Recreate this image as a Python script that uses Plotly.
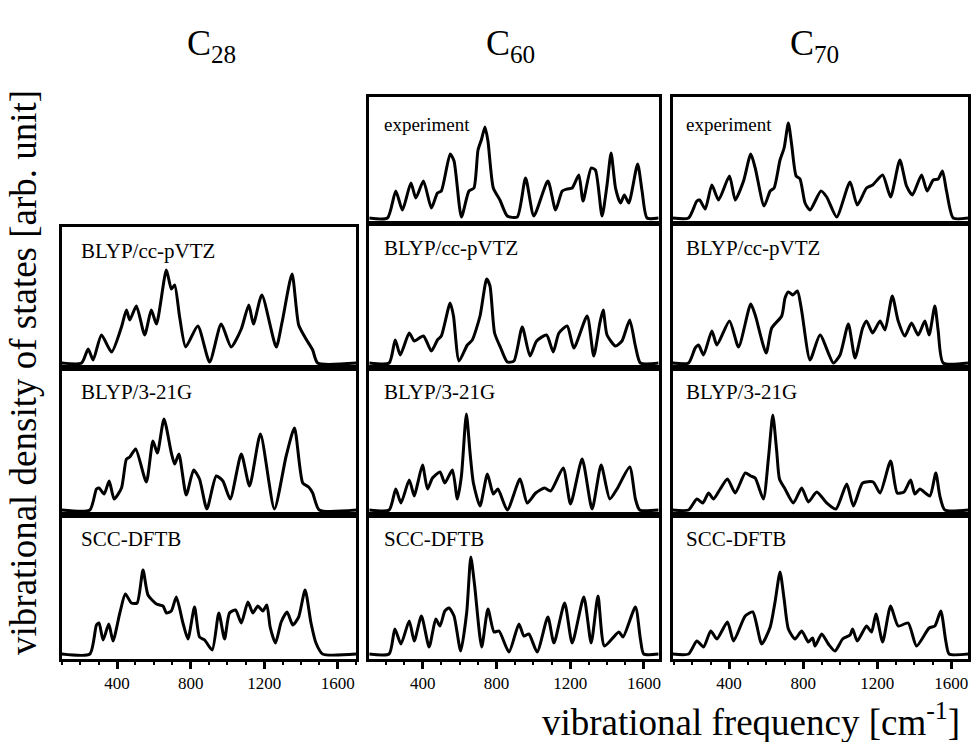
import plotly.graph_objects as go

# ---------------- data (frequency in cm^-1, intensity in arb. units) ----------------
molecules = ["C<sub>28</sub>", "C<sub>60</sub>", "C<sub>70</sub>"]
methods = ["experiment", "BLYP/cc-pVTZ", "BLYP/3-21G", "SCC-DFTB"]
tick_vals = [400, 800, 1200, 1600]

c28_cc_x = [207,243,270,315,370,424,451,469,505,550,586,614,668,695,713,740,773,839,903,966,1020,1075,1116,1141,1187,1265,1297,1351,1387,1427,1463,1490]
c28_cc_y = [0,14,3,28,11,36,53,43,57,28,53,39,93,74,78,46,16,37,1,39,16,34,58,39,68,16,41,89,38,24,13,0]

c28_321_x = [252,288,302,330,357,384,424,451,469,501,559,595,619,655,695,713,736,776,816,848,888,939,975,1015,1075,1120,1179,1255,1319,1364,1409,1441,1463,1499]
c28_321_y = [0,21,22,16,29,11,22,51,53,61,28,69,57,91,57,46,56,15,40,31,1,34,29,11,56,24,76,1,54,82,27,23,17,0]

c28_scc_x = [252,288,302,324,355,378,415,445,478,509,541,568,614,650,668,695,722,758,785,821,848,876,917,953,984,1011,1044,1075,1111,1138,1165,1192,1214,1232,1261,1292,1324,1355,1387,1422,1454,1481,1517]
c28_scc_y = [0,29,31,14,30,13,41,60,51,51,84,59,50,48,41,43,57,31,15,47,17,14,4,41,15,41,44,31,52,41,48,43,49,27,11,32,42,29,37,64,31,11,0]

c60_exp_x = [209,254,290,336,363,404,447,480,501,549,570,610,651,678,700,718,738,754,783,819,859,913,958,1003,1079,1121,1157,1184,1211,1247,1270,1314,1337,1373,1400,1422,1446,1473,1494,1518,1566,1590,1617]
c60_exp_y = [0,27,8,35,20,37,10,25,27,64,57,1,27,30,68,78,91,77,30,18,2,1,40,2,37,8,27,29,30,43,17,50,48,2,33,65,30,15,23,15,54,27,0]

c60_cc_x = [218,251,278,327,354,404,447,480,501,549,567,597,642,669,711,747,765,790,823,859,895,940,982,1018,1072,1108,1139,1184,1220,1292,1328,1361,1379,1400,1446,1481,1523,1554,1581]
c60_cc_y = [0,23,8,30,22,27,12,23,27,60,47,2,18,23,47,84,77,30,15,1,2,36,7,22,28,11,30,37,15,47,7,40,53,28,17,22,43,17,0]

c60_321_x = [218,254,282,327,354,372,399,426,453,494,520,561,588,610,637,657,675,711,751,783,808,859,928,967,1013,1061,1094,1162,1202,1265,1319,1368,1415,1454,1523,1554,1577]
c60_321_y = [0,21,7,30,14,26,45,21,32,38,27,40,11,34,96,57,27,4,36,16,21,0,31,7,17,22,19,42,6,51,1,45,11,21,43,11,0]

c60_scc_x = [218,249,282,327,354,393,435,471,494,520,543,570,606,639,661,682,720,754,787,814,868,922,949,976,1021,1079,1112,1170,1211,1274,1314,1351,1386,1464,1487,1554,1581,1599]
c60_scc_y = [0,25,10,33,13,38,7,35,28,43,46,38,3,42,97,68,7,45,22,23,2,30,18,20,2,37,11,51,11,57,11,58,8,22,17,47,15,0]

c70_exp_x = [181,226,241,271,307,343,402,433,478,517,541,589,622,643,675,697,720,738,762,783,810,837,896,927,981,1053,1092,1142,1175,1229,1272,1322,1358,1390,1439,1469,1502,1529,1552,1574,1610]
c70_exp_y = [0,17,18,9,33,18,42,18,37,64,50,12,27,30,58,70,95,73,42,39,15,8,27,21,1,36,13,30,33,43,21,58,32,23,43,27,38,39,47,27,0]

c70_cc_x = [181,217,235,262,307,334,402,451,517,541,600,630,684,702,720,744,769,792,837,891,963,999,1044,1080,1121,1142,1175,1215,1242,1281,1313,1349,1385,1421,1457,1480,1511,1529,1556]
c70_cc_y = [0,15,18,8,32,18,42,16,59,48,10,35,47,65,71,68,72,52,3,28,0,8,39,5,35,42,30,42,33,67,42,27,40,28,42,28,57,32,0]

c70_321_x = [181,226,258,289,316,352,391,433,487,517,541,585,612,636,657,672,702,747,792,828,873,927,977,1035,1071,1121,1178,1215,1272,1308,1344,1380,1403,1430,1484,1516,1538,1565]
c70_321_y = [0,11,7,17,11,21,31,17,37,34,32,11,51,95,59,31,21,7,22,8,18,7,1,26,4,27,28,17,49,17,18,30,16,21,14,37,14,0]

c70_scc_x = [181,226,262,301,334,391,424,487,528,576,622,648,675,697,720,756,792,828,851,864,900,936,972,1013,1053,1067,1092,1142,1169,1193,1229,1272,1313,1367,1412,1480,1511,1543,1570,1588]
c70_scc_y = [0,13,7,23,15,32,13,38,42,10,27,52,82,55,25,15,23,12,16,8,20,10,3,15,19,25,13,28,22,40,12,48,28,31,8,26,28,43,13,0]

spectra = {
    (0, 1): (c28_cc_x, c28_cc_y),
    (0, 2): (c28_321_x, c28_321_y),
    (0, 3): (c28_scc_x, c28_scc_y),
    (1, 0): (c60_exp_x, c60_exp_y),
    (1, 1): (c60_cc_x, c60_cc_y),
    (1, 2): (c60_321_x, c60_321_y),
    (1, 3): (c60_scc_x, c60_scc_y),
    (2, 0): (c70_exp_x, c70_exp_y),
    (2, 1): (c70_cc_x, c70_cc_y),
    (2, 2): (c70_321_x, c70_321_y),
    (2, 3): (c70_scc_x, c70_scc_y),
}

# ---------------- layout (pixel geometry) ----------------
W, H = 975, 742
col_px = [(62, 357), (370, 660), (674, 970)]
col_range = [(100, 1700), (110, 1680), (95, 1690)]
label_off = [17, 13, 11]
row_px = [(97, 223), (224, 368), (368, 515), (515, 659)]
col1_top = 227
BASE_OFF = 5  # baseline offset above panel bottom (px)

FONT = "Liberation Serif"

def fx(px):
    return px / W

def fy(py):
    return 1 - py / H

fig = go.Figure()
layout = {}
annotations = []

idx = 0
for (c, r), (xs, ys) in spectra.items():
    idx += 1
    x0, x1 = col_px[c]
    top, bot = row_px[r]
    if c == 0 and r == 1:
        top = col1_top
    lo, hi = col_range[c]
    xa = "xaxis" if idx == 1 else f"xaxis{idx}"
    ya = "yaxis" if idx == 1 else f"yaxis{idx}"
    xref = "x" if idx == 1 else f"x{idx}"
    yref = "y" if idx == 1 else f"y{idx}"
    bottom_row = (r == 3)
    xaxis = dict(
        domain=[fx(x0), fx(x1)], range=[lo, hi], anchor=yref,
        showline=True, mirror=True, linecolor="black", linewidth=3,
        showgrid=False, zeroline=False, fixedrange=True,
    )
    if bottom_row:
        xaxis.update(
            tickvals=tick_vals, ticks="outside", ticklen=7, tickwidth=2.5,
            tickcolor="black", showticklabels=True,
            tickfont=dict(family=FONT, size=17, color="black"),
            minor=dict(ticks="outside", dtick=100, tick0=0, ticklen=3,
                       tickwidth=1.5, tickcolor="black"),
        )
    else:
        xaxis.update(ticks="", showticklabels=False)
    layout[xa] = xaxis
    hpx = bot - top
    layout[ya] = dict(
        domain=[fy(bot), fy(top)], range=[-BASE_OFF, hpx - BASE_OFF], anchor=xref,
        showline=True, mirror=True, linecolor="black", linewidth=3,
        showgrid=False, zeroline=False, ticks="", showticklabels=False,
        fixedrange=True,
    )
    fig.add_trace(go.Scatter(
        x=[lo] + list(xs) + [hi], y=[0] + list(ys) + [0],
        mode="lines", line=dict(color="black", width=3, shape="spline", smoothing=0.6),
        xaxis=xref, yaxis=yref, showlegend=False, hoverinfo="skip",
    ))
    annotations.append(dict(
        text=methods[r], xref="paper", yref="paper",
        x=fx(x0 + label_off[c]), y=fy(top + (15 if r == 0 else 10)),
        xanchor="left", yanchor="top",
        showarrow=False, font=dict(family=FONT, size=21 if r else 19, color="black"),
    ))

# column titles
for c, name in enumerate(molecules):
    cx = [212, 512, 816][c]
    annotations.append(dict(
        text=name, xref="paper", yref="paper", x=fx(cx), y=fy(46),
        xanchor="center", yanchor="middle", showarrow=False,
        font=dict(family=FONT, size=36, color="black"),
    ))

# axis titles
annotations.append(dict(
    text="vibrational density of states [arb. unit]", xref="paper", yref="paper",
    x=fx(23), y=fy(372), xanchor="center", yanchor="middle", textangle=-90,
    showarrow=False, font=dict(family=FONT, size=37, color="black"),
))
annotations.append(dict(
    text="vibrational frequency [cm<sup>-1</sup>]", xref="paper", yref="paper",
    x=fx(964), y=fy(719), xanchor="right", yanchor="middle",
    showarrow=False, font=dict(family=FONT, size=37, color="black"),
))

fig.update_layout(
    width=W, height=H, margin=dict(l=0, r=0, t=0, b=0),
    paper_bgcolor="white", plot_bgcolor="white",
    annotations=annotations, **layout,
)

fig.write_html("out.html")
